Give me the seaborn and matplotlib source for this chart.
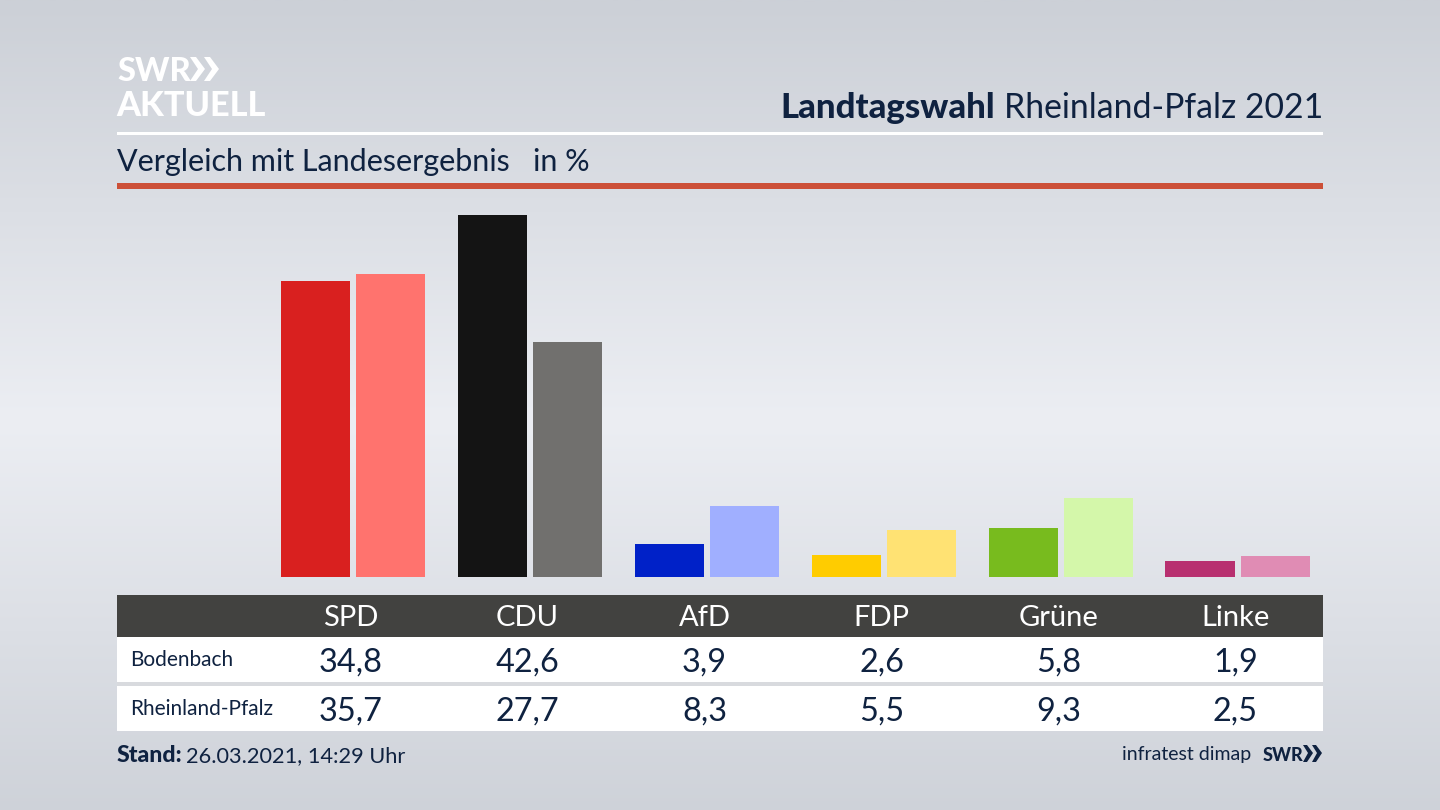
import numpy as np
import pandas as pd
import matplotlib
matplotlib.use("Agg")
import matplotlib.pyplot as plt
from matplotlib.patches import Rectangle, Polygon
import seaborn as sns

parties = ["SPD", "CDU", "AfD", "FDP", "Grüne", "Linke"]
bodenbach = [34.8, 42.6, 3.9, 2.6, 5.8, 1.9]
rlp = [35.7, 27.7, 8.3, 5.5, 9.3, 2.5]
colors_local = ["#d9201f", "#141414", "#0021c8", "#ffcc00", "#78bb1e", "#b83070"]
colors_land = ["#ff736e", "#71706e", "#a0afff", "#ffe273", "#d4f7aa", "#e08cb4"]
row_names = ["Bodenbach", "Rheinland-Pfalz"]

sns.set_theme(style="white")
plt.rcParams["font.family"] = ["Lato", "DejaVu Sans"]

W, H = 1440, 810
navy = "#0f2240"
fig = plt.figure(figsize=(14.4, 8.1), dpi=100)

# pixel canvas for background, header and table
bg = fig.add_axes([0, 0, 1, 1], zorder=0)
bg.set_xlim(0, W)
bg.set_ylim(H, 0)
bg.axis("off")
yy = np.linspace(0, 1, 200)
grad = 1 - np.abs(yy - 0.52) / 0.52
top = np.array([204, 208, 215]) / 255
mid = np.array([236, 238, 243]) / 255
img = (top + (mid - top) * grad[:, None])[:, None, :]
bg.imshow(img, extent=[0, W, H, 0], aspect="auto", interpolation="bilinear")

# logo
bg.text(117, 81, "SWR", color="white", fontsize=23.5, fontweight="black", va="baseline")
bg.text(116, 116, "AKTUELL", color="white", fontsize=24.7, fontweight="black", va="baseline")
for x0 in (190, 204):
    bg.add_patch(Polygon([(x0, 57), (x0 + 6, 57), (x0 + 15, 69), (x0 + 6, 81), (x0, 81), (x0 + 8, 69)],
                         color="white", lw=0))

# header
title = bg.text(1323, 118, "Rheinland-Pfalz 2021", color=navy, fontsize=24.3, ha="right", va="baseline")
fig.canvas.draw()
bb = title.get_window_extent()
bg.text(bb.x0 - 9, 118, "Landtagswahl", color=navy, fontsize=25, fontweight="black", ha="right", va="baseline")
bg.add_patch(Rectangle((117, 132), 1206, 3, color="white", lw=0))
bg.text(117, 171, "Vergleich mit Landesergebnis   in %", color=navy, fontsize=22, va="baseline")
bg.add_patch(Rectangle((117, 183), 1206, 6, color="#cc5038", lw=0))

# table
bg.add_patch(Rectangle((117, 595), 1206, 42, color="#424240", lw=0))
bg.add_patch(Rectangle((117, 682), 1206, 4, color="#d8dade", lw=0))
bg.add_patch(Rectangle((117, 637), 1206, 45, color="white", lw=0))
bg.add_patch(Rectangle((117, 686), 1206, 45, color="white", lw=0))
for i, party in enumerate(parties):
    x = 350.5 + 177 * i
    bg.text(x, 626, party, color="white", fontsize=21, ha="center", va="baseline")
    bg.text(x, 672, f"{bodenbach[i]:.1f}".replace(".", ","), color=navy, fontsize=23.3, ha="center", va="baseline")
    bg.text(x, 721, f"{rlp[i]:.1f}".replace(".", ","), color=navy, fontsize=23.3, ha="center", va="baseline")
bg.text(130, 666, row_names[0], color=navy, fontsize=15, va="baseline")
bg.text(130, 715, row_names[1], color=navy, fontsize=15, va="baseline")

# footer
stand = bg.text(117, 762, "Stand:", color=navy, fontsize=16.7, fontweight="black", va="baseline")
fig.canvas.draw()
bb = stand.get_window_extent()
bg.text(bb.x1 + 3, 762, "26.03.2021, 14:29 Uhr", color=navy, fontsize=15.7, va="baseline")
bg.text(1251, 760, "infratest dimap", color=navy, fontsize=14, ha="right", va="baseline")
bg.text(1263, 761, "SWR", color=navy, fontsize=13, fontweight="black", va="baseline")
for x0 in (1303, 1312):
    bg.add_patch(Polygon([(x0, 745), (x0 + 4, 745), (x0 + 10, 753), (x0 + 4, 762), (x0, 762), (x0 + 5, 753)],
                         color=navy, lw=0))

# bars
df = pd.DataFrame({
    "party": parties * 2,
    "value": bodenbach + rlp,
    "area": [row_names[0]] * 6 + [row_names[1]] * 6,
})
bar_top, bar_base = 200, 577
left = 264.6
ax = fig.add_axes([left / W, 1 - bar_base / H, 176.95 * 6 / W, (bar_base - bar_top) / H], zorder=1)
sns.barplot(data=df, x="party", y="value", hue="area", order=parties, hue_order=row_names,
            width=0.853, gap=0.082, legend=False, saturation=1, ax=ax)
for patch, c in zip(ax.patches, colors_local + colors_land):
    patch.set_facecolor(c)
    patch.set_edgecolor("none")
ax.set_xlim(-0.5, 5.5)
ax.set_ylim(0, (bar_base - bar_top) / 8.5)
ax.axis("off")

fig.savefig("out.png", dpi=100)
